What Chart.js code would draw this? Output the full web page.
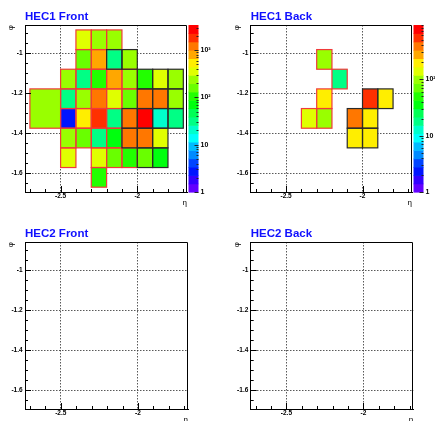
<!DOCTYPE html>
<html>
<head>
<meta charset="utf-8">
<script src="https://cdn.jsdelivr.net/npm/chart.js@4.4.0/dist/chart.umd.min.js"></script>
<style>
  body { margin: 0; background: #fff; }
  #wrap { position: relative; width: 435px; height: 421px; overflow: hidden; }
  #wrap canvas { position: absolute; }
</style>
</head>
<body>
<div id="wrap">
  <canvas id="hec1Front" width="217" height="217" style="left:0;top:0"></canvas>
  <canvas id="hec1Back" width="217" height="217" style="left:218px;top:0"></canvas>
  <canvas id="hec2Front" width="217" height="217" style="left:0;top:217px"></canvas>
  <canvas id="hec2Back" width="217" height="217" style="left:218px;top:217px"></canvas>
</div>
<script>
// phi bins are 2pi/64 wide; a cell with bin n spans -(n+span)*PHI_BIN .. -n*PHI_BIN
const PHI_BIN = Math.PI / 32;

// axis ticks
const etaMajor = [-2.5, -2];
const phiMajor = [-1.6, -1.4, -1.2, -1];
const etaMinorStep = 0.1;
const phiMinorStep = 0.05;
const zTickValues = [1, 10, 100, 1000];
const zTickLabels = ["1", "10", "10\u00b2", "10\u00b3"];

// HEC1 Front cells, row by row from the top
const frontEtaLo = [
  -2.4, -2.3, -2.2,
  -2.4, -2.3, -2.2, -2.1,
  -2.5, -2.4, -2.3, -2.2, -2.1, -2.0, -1.9, -1.8,
  -2.7, -2.5, -2.4, -2.3, -2.2, -2.1, -2.0, -1.9, -1.8,
  -2.5, -2.4, -2.3, -2.2, -2.1, -2.0, -1.9, -1.8,
  -2.5, -2.4, -2.3, -2.2, -2.1, -2.0, -1.9,
  -2.5, -2.3, -2.2, -2.1, -2.0, -1.9,
  -2.3,
];
const frontEtaHi = [
  -2.3, -2.2, -2.1,
  -2.3, -2.2, -2.1, -2.0,
  -2.4, -2.3, -2.2, -2.1, -2.0, -1.9, -1.8, -1.7,
  -2.5, -2.4, -2.3, -2.2, -2.1, -2.0, -1.9, -1.8, -1.7,
  -2.4, -2.3, -2.2, -2.1, -2.0, -1.9, -1.8, -1.7,
  -2.4, -2.3, -2.2, -2.1, -2.0, -1.9, -1.8,
  -2.4, -2.2, -2.1, -2.0, -1.9, -1.8,
  -2.2,
];
const frontPhiBin = [
  9, 9, 9,
  10, 10, 10, 10,
  11, 11, 11, 11, 11, 11, 11, 11,
  12, 12, 12, 12, 12, 12, 12, 12, 12,
  13, 13, 13, 13, 13, 13, 13, 13,
  14, 14, 14, 14, 14, 14, 14,
  15, 15, 15, 15, 15, 15,
  16,
];
const frontPhiSpan = [
  1, 1, 1,
  1, 1, 1, 1,
  1, 1, 1, 1, 1, 1, 1, 1,
  2, 1, 1, 1, 1, 1, 1, 1, 1,
  1, 1, 1, 1, 1, 1, 1, 1,
  1, 1, 1, 1, 1, 1, 1,
  1, 1, 1, 1, 1, 1,
  1,
];
const frontCounts = [
  350, 240, 255,
  160, 800, 31, 230,
  250, 34, 115, 850, 245, 105, 380, 235,
  260, 30, 225, 1150, 395, 150, 1250, 1100, 240,
  3, 520, 1800, 33, 1200, 3300, 21, 29,
  265, 170, 36, 75, 1300, 1050, 340,
  360, 330, 145, 110, 165, 68,
  100,
];
// outline group: 0 red, 1 dark
const frontEdge = [
  0, 0, 0,
  0, 0, 1, 1,
  0, 0, 0, 0, 0, 1, 1, 1,
  0, 0, 0, 0, 0, 0, 1, 1, 1,
  0, 0, 0, 0, 1, 1, 1, 1,
  0, 0, 0, 0, 1, 1, 1,
  0, 0, 0, 0, 1, 1,
  0,
];

// HEC1 Back cells
const backEtaLo = [-2.3, -2.2, -2.3, -2.0, -1.9, -2.4, -2.3, -2.1, -2.0, -2.1, -2.0];
const backEtaHi = [-2.2, -2.1, -2.2, -1.9, -1.8, -2.3, -2.2, -2.0, -1.9, -2.0, -1.9];
const backPhiBin = [10, 11, 12, 12, 12, 13, 13, 13, 13, 14, 14];
const backPhiSpan = [1, 1, 1, 1, 1, 1, 1, 1, 1, 1, 1];
const backCounts = [100, 18, 200, 560, 195, 140, 105, 390, 210, 190, 205];
const backEdge = [0, 0, 0, 1, 1, 0, 0, 1, 1, 1, 1];

// colour axis maxima
const frontZMax = 3400;
const backZMax = 910;

const N_LEVELS = 20;
const N_COLORS = 50;
const FONT = "'Liberation Sans', Arial, sans-serif";

function paletteColor(level) {
  const idx = Math.floor((level + 0.99) * N_COLORS / N_LEVELS);
  const hue = 280 - (idx + 1) * 280 / N_COLORS;
  return "hsl(" + hue + ",100%,50%)";
}

function levelOf(v, zMax) {
  const l = Math.floor(Math.log10(v) / Math.log10(zMax) * N_LEVELS);
  return Math.max(0, Math.min(N_LEVELS - 1, l));
}

function isMajor(v, list) {
  return list.some((m) => Math.abs(m - v) < 1e-6);
}

function buildCells(etaLo, etaHi, phiBin, phiSpan, counts, edge) {
  return counts.map((v, i) => ({
    x: (etaLo[i] + etaHi[i]) / 2,
    y: -(phiBin[i] + phiSpan[i] / 2) * PHI_BIN,
    x0: etaLo[i],
    x1: etaHi[i],
    y0: -(phiBin[i] + phiSpan[i]) * PHI_BIN,
    y1: -phiBin[i] * PHI_BIN,
    v: v,
    edge: edge[i],
  }));
}

function stepTicks(scale, step) {
  const ticks = [];
  const k0 = Math.ceil(scale.min / step - 1e-6);
  const k1 = Math.floor(scale.max / step + 1e-6);
  for (let k = k0; k <= k1; k++) ticks.push({ value: +(k * step).toFixed(3) });
  scale.ticks = ticks;
}

const hecPlugin = {
  id: "hec",
  beforeDatasetsDraw(chart, args, opts) {
    const ds = chart.data.datasets[0];
    if (!ds || !ds.data.length) return;
    const { ctx, chartArea: a } = chart;
    const xs = chart.scales.x;
    const ys = chart.scales.y;
    const rect = (c) => {
      const x0 = xs.getPixelForValue(c.x0);
      const x1 = xs.getPixelForValue(c.x1);
      const yt = ys.getPixelForValue(c.y1);
      const yb = ys.getPixelForValue(c.y0);
      return [x0, yt, x1 - x0, yb - yt];
    };
    ctx.save();
    ctx.beginPath();
    ctx.rect(a.left, a.top, a.width, a.height);
    ctx.clip();
    ds.data.forEach((c) => {
      ctx.fillStyle = paletteColor(levelOf(c.v, opts.zMax));
      ctx.fillRect(...rect(c));
    });
    ctx.lineWidth = 1.2;
    [0, 1].forEach((g) => {
      ctx.strokeStyle = g ? "#2a2a2a" : "#f03a3a";
      ds.data.filter((c) => c.edge === g).forEach((c) => ctx.strokeRect(...rect(c)));
    });
    ctx.restore();
  },
  afterDraw(chart, args, opts) {
    const { ctx, chartArea: a } = chart;
    const xs = chart.scales.x;
    const ys = chart.scales.y;
    ctx.save();
    ctx.strokeStyle = "#000";
    ctx.lineWidth = 1;
    ctx.beginPath();
    xs.ticks.forEach((t) => {
      const p = Math.round(xs.getPixelForValue(t.value)) + 0.5;
      const len = isMajor(t.value, etaMajor) ? 6 : 3;
      ctx.moveTo(p, a.bottom);
      ctx.lineTo(p, a.bottom - len);
    });
    ys.ticks.forEach((t) => {
      const p = Math.round(ys.getPixelForValue(t.value)) + 0.5;
      const len = isMajor(t.value, phiMajor) ? 6 : 3;
      ctx.moveTo(a.left, p);
      ctx.lineTo(a.left + len, p);
    });
    const r = Math.round(a.right) - 0.5;
    const tp = Math.round(a.top) + 0.5;
    ctx.moveTo(a.left, tp);
    ctx.lineTo(r, tp);
    ctx.lineTo(r, a.bottom);
    ctx.stroke();

    const zs = chart.scales.z;
    if (zs) {
      const zl = zs.left + 1.5;
      const zw = 10;
      const dl = Math.log10(opts.zMax) / N_LEVELS;
      for (let k = 0; k < N_LEVELS; k++) {
        const yb = zs.getPixelForValue(Math.pow(10, k * dl));
        const yt = zs.getPixelForValue(Math.pow(10, (k + 1) * dl));
        ctx.fillStyle = paletteColor(k);
        ctx.fillRect(zl, yt, zw, yb - yt + 0.6);
      }
      ctx.strokeStyle = "#222";
      ctx.beginPath();
      for (let dec = 1; dec <= opts.zMax; dec *= 10) {
        for (let m = 1; m <= 9; m++) {
          const v = m * dec;
          if (v > opts.zMax) break;
          const p = Math.round(zs.getPixelForValue(v)) + 0.5;
          const len = m === 1 ? 4 : 2;
          ctx.moveTo(zl + zw, p);
          ctx.lineTo(zl + zw - len, p);
        }
      }
      ctx.stroke();
    }
    ctx.restore();
  },
};

function makePanel(id, title, cells, zMax, yWidth, rightWidth) {
  const tickFont = { family: FONT, size: 6.5, weight: "bold" };
  const scales = {
    x: {
      type: "linear",
      min: -2.732,
      max: -1.676,
      afterBuildTicks: (s) => stepTicks(s, etaMinorStep),
      afterFit: (s) => { s.height = 25; },
      grid: {
        drawTicks: false,
        color: (c) => (c.tick && isMajor(c.tick.value, etaMajor) ? "rgba(60,60,60,0.85)" : "rgba(0,0,0,0)"),
      },
      border: { display: true, color: "#000", width: 1, dash: [1.5, 1.5] },
      ticks: {
        autoSkip: false,
        maxRotation: 0,
        padding: 0.5,
        color: "#000",
        font: tickFont,
        callback: (v) => (isMajor(v, etaMajor) ? String(+v.toFixed(2)) : ""),
      },
      title: {
        display: true,
        text: "\u03b7",
        align: "end",
        color: "#000",
        font: { family: FONT, size: 8 },
        padding: { top: 0, bottom: 9.9 },
      },
    },
    y: {
      type: "linear",
      min: -1.693,
      max: -0.859,
      afterBuildTicks: (s) => stepTicks(s, phiMinorStep),
      afterFit: (s) => { s.width = yWidth; },
      grid: {
        drawTicks: false,
        color: (c) => (c.tick && isMajor(c.tick.value, phiMajor) ? "rgba(60,60,60,0.85)" : "rgba(0,0,0,0)"),
      },
      border: { display: true, color: "#000", width: 1, dash: [1.5, 1.5] },
      ticks: {
        autoSkip: false,
        padding: 2.4,
        color: "#000",
        font: tickFont,
        callback: (v) => (isMajor(v, phiMajor) ? String(+v.toFixed(2)) : ""),
      },
      title: {
        display: true,
        text: "\u03c6",
        align: "end",
        color: "#000",
        font: { family: FONT, size: 8 },
        padding: { top: yWidth - 18.8, bottom: 0 },
      },
    },
  };
  let padRight = rightWidth;
  if (zMax) {
    padRight = 0;
    scales.z = {
      type: "logarithmic",
      position: "right",
      min: 1,
      max: zMax,
      afterBuildTicks: (s) => {
        s.ticks = zTickValues.filter((v) => v <= s.max).map((v) => ({ value: v }));
      },
      afterFit: (s) => { s.width = rightWidth; },
      grid: { display: false, drawTicks: false, drawOnChartArea: false },
      border: { display: false },
      ticks: {
        autoSkip: false,
        padding: 13.5,
        color: "#000",
        font: { family: FONT, size: 7, weight: "bold" },
        callback: (v) => zTickLabels[zTickValues.indexOf(v)] || "",
      },
    };
  }
  return new Chart(document.getElementById(id), {
    type: "scatter",
    data: { datasets: [{ data: cells, pointRadius: 0, pointHoverRadius: 0 }] },
    options: {
      responsive: false,
      animation: false,
      devicePixelRatio: 1,
      events: [],
      layout: { padding: { left: 0, right: padRight, top: 0, bottom: 0 } },
      scales: scales,
      plugins: {
        legend: { display: false },
        tooltip: { enabled: false },
        title: {
          display: true,
          text: title,
          align: "start",
          fullSize: false,
          color: "#1010ff",
          font: { family: FONT, size: 11.5, weight: "bold" },
          padding: { top: 9.6, bottom: 1.6 },
        },
        hec: { zMax: zMax },
      },
    },
    plugins: [hecPlugin],
  });
}

const frontCells = buildCells(frontEtaLo, frontEtaHi, frontPhiBin, frontPhiSpan, frontCounts, frontEdge);
const backCells = buildCells(backEtaLo, backEtaHi, backPhiBin, backPhiSpan, backCounts, backEdge);

makePanel("hec1Front", "HEC1 Front", frontCells, frontZMax, 25, 30);
makePanel("hec1Back", "HEC1 Back", backCells, backZMax, 32.7, 23);
makePanel("hec2Front", "HEC2 Front", [], null, 25, 29);
makePanel("hec2Back", "HEC2 Back", [], null, 32.7, 21.7);
</script>
</body>
</html>
